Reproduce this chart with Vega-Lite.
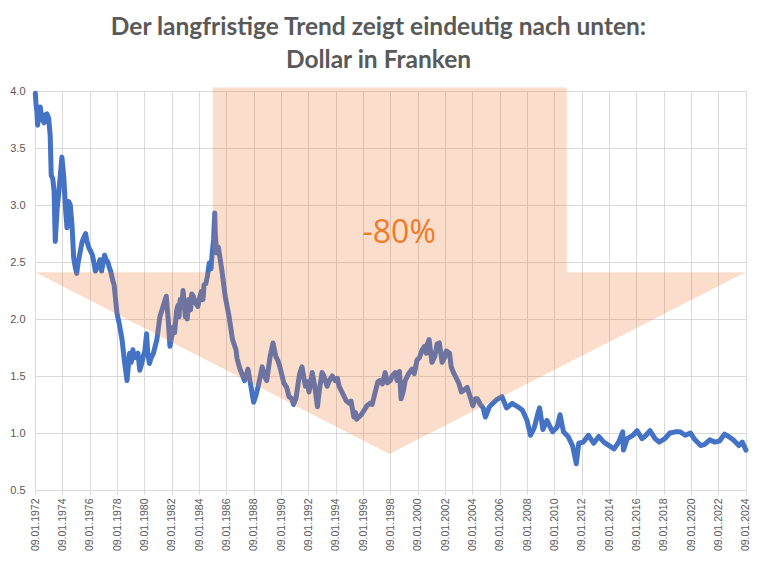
{
  "$schema": "https://vega.github.io/schema/vega-lite/v6.json",
  "width": 711,
  "height": 399,
  "autosize": {"type": "none"},
  "padding": {"left": 35, "top": 91, "right": 15, "bottom": 71},
  "background": "white",
  "title": {
    "text": ["Der langfristige Trend zeigt eindeutig nach unten:", "Dollar in Franken"],
    "font": "Lato",
    "fontSize": 24.5,
    "fontWeight": "bold",
    "color": "#595959",
    "lineHeight": 33,
    "anchor": "middle",
    "dx": -12,
    "offset": 12
  },
  "config": {
    "view": {"stroke": null},
    "axis": {
      "gridColor": "#D9D9D9",
      "gridWidth": 1,
      "domain": false,
      "labelColor": "#595959",
      "labelFont": "Liberation Sans",
      "tickColor": "#D9D9D9",
      "title": null
    }
  },
  "datasets": {
    "fx": [
      {"d": "1972-01-09", "v": 3.98}, {"d": "1972-01-25", "v": 3.90}, {"d": "1972-02-20", "v": 3.82}, {"d": "1972-03-10", "v": 3.70},
      {"d": "1972-04-10", "v": 3.78}, {"d": "1972-05-20", "v": 3.86}, {"d": "1972-06-15", "v": 3.80}, {"d": "1972-07-30", "v": 3.74},
      {"d": "1972-09-01", "v": 3.72}, {"d": "1972-10-01", "v": 3.79}, {"d": "1972-11-15", "v": 3.80},
      {"d": "1973-01-01", "v": 3.76}, {"d": "1973-02-10", "v": 3.61}, {"d": "1973-03-10", "v": 3.26},
      {"d": "1973-04-20", "v": 3.23}, {"d": "1973-05-25", "v": 3.12}, {"d": "1973-06-25", "v": 2.68},
      {"d": "1973-08-15", "v": 2.97}, {"d": "1973-10-01", "v": 3.12}, {"d": "1973-12-20", "v": 3.42},
      {"d": "1974-02-10", "v": 3.24}, {"d": "1974-03-20", "v": 3.00}, {"d": "1974-05-05", "v": 2.80},
      {"d": "1974-06-20", "v": 3.03}, {"d": "1974-08-01", "v": 3.00}, {"d": "1974-09-15", "v": 2.83},
      {"d": "1974-11-01", "v": 2.53}, {"d": "1974-12-15", "v": 2.45}, {"d": "1975-01-20", "v": 2.40}, {"d": "1975-03-01", "v": 2.50},
      {"d": "1975-06-15", "v": 2.68}, {"d": "1975-09-15", "v": 2.75}, {"d": "1975-10-20", "v": 2.68}, {"d": "1975-12-15", "v": 2.62},
      {"d": "1976-01-20", "v": 2.60}, {"d": "1976-03-15", "v": 2.56}, {"d": "1976-04-20", "v": 2.50}, {"d": "1976-06-01", "v": 2.42},
      {"d": "1976-07-15", "v": 2.45}, {"d": "1976-09-01", "v": 2.48}, {"d": "1976-10-01", "v": 2.52},
      {"d": "1976-11-15", "v": 2.42}, {"d": "1977-02-01", "v": 2.56}, {"d": "1977-03-15", "v": 2.52}, {"d": "1977-05-01", "v": 2.50},
      {"d": "1977-06-01", "v": 2.46}, {"d": "1977-07-15", "v": 2.42}, {"d": "1977-09-15", "v": 2.33}, {"d": "1977-10-15", "v": 2.30},
      {"d": "1977-12-31", "v": 2.05}, {"d": "1978-03-01", "v": 1.96}, {"d": "1978-05-15", "v": 1.82},
      {"d": "1978-07-15", "v": 1.64}, {"d": "1978-09-25", "v": 1.46}, {"d": "1978-12-01", "v": 1.70},
      {"d": "1979-01-15", "v": 1.62}, {"d": "1979-03-01", "v": 1.73}, {"d": "1979-04-15", "v": 1.66}, {"d": "1979-06-01", "v": 1.67},
      {"d": "1979-07-15", "v": 1.70}, {"d": "1979-09-01", "v": 1.55}, {"d": "1979-10-15", "v": 1.60},
      {"d": "1979-12-01", "v": 1.67}, {"d": "1980-01-15", "v": 1.72}, {"d": "1980-03-01", "v": 1.87}, {"d": "1980-04-01", "v": 1.70},
      {"d": "1980-05-15", "v": 1.61}, {"d": "1980-07-01", "v": 1.66}, {"d": "1980-09-01", "v": 1.70}, {"d": "1980-10-15", "v": 1.76},
      {"d": "1980-12-01", "v": 1.82}, {"d": "1981-02-20", "v": 2.02},
      {"d": "1981-05-15", "v": 2.11}, {"d": "1981-08-10", "v": 2.20}, {"d": "1981-10-01", "v": 1.99},
      {"d": "1981-11-15", "v": 1.76}, {"d": "1982-02-15", "v": 1.93}, {"d": "1982-03-20", "v": 1.88}, {"d": "1982-05-15", "v": 2.08},
      {"d": "1982-06-20", "v": 2.12}, {"d": "1982-07-15", "v": 2.02}, {"d": "1982-08-15", "v": 2.17}, {"d": "1982-09-20", "v": 2.10},
      {"d": "1982-11-01", "v": 2.25}, {"d": "1982-12-31", "v": 2.02}, {"d": "1983-01-20", "v": 2.10}, {"d": "1983-02-20", "v": 2.00},
      {"d": "1983-04-01", "v": 2.17}, {"d": "1983-05-20", "v": 2.08}, {"d": "1983-06-20", "v": 2.22}, {"d": "1983-08-01", "v": 2.20},
      {"d": "1983-10-01", "v": 2.14}, {"d": "1983-12-01", "v": 2.11}, {"d": "1984-01-15", "v": 2.18},
      {"d": "1984-03-01", "v": 2.24}, {"d": "1984-04-15", "v": 2.17}, {"d": "1984-05-15", "v": 2.30}, {"d": "1984-07-01", "v": 2.31},
      {"d": "1984-08-15", "v": 2.38}, {"d": "1984-10-01", "v": 2.49}, {"d": "1984-11-15", "v": 2.44},
      {"d": "1984-12-20", "v": 2.58}, {"d": "1985-01-25", "v": 2.70}, {"d": "1985-02-25", "v": 2.93}, {"d": "1985-03-10", "v": 2.75},
      {"d": "1985-04-15", "v": 2.58}, {"d": "1985-06-01", "v": 2.63},
      {"d": "1985-09-01", "v": 2.43}, {"d": "1985-12-01", "v": 2.20}, {"d": "1986-03-15", "v": 2.02},
      {"d": "1986-06-15", "v": 1.82}, {"d": "1986-09-15", "v": 1.73}, {"d": "1986-10-15", "v": 1.65},
      {"d": "1987-01-01", "v": 1.56}, {"d": "1987-05-01", "v": 1.46}, {"d": "1987-08-01", "v": 1.56},
      {"d": "1987-12-31", "v": 1.27}, {"d": "1988-03-01", "v": 1.33}, {"d": "1988-05-01", "v": 1.41}, {"d": "1988-08-15", "v": 1.58},
      {"d": "1988-10-15", "v": 1.50}, {"d": "1988-12-15", "v": 1.46}, {"d": "1989-03-15", "v": 1.67}, {"d": "1989-06-01", "v": 1.79},
      {"d": "1989-08-15", "v": 1.67}, {"d": "1989-10-15", "v": 1.63}, {"d": "1989-12-01", "v": 1.58}, {"d": "1990-01-15", "v": 1.52},
      {"d": "1990-03-15", "v": 1.44}, {"d": "1990-06-01", "v": 1.40},
      {"d": "1990-08-01", "v": 1.32}, {"d": "1990-10-15", "v": 1.30}, {"d": "1990-12-01", "v": 1.25}, {"d": "1991-02-01", "v": 1.30},
      {"d": "1991-04-15", "v": 1.46}, {"d": "1991-05-15", "v": 1.52},
      {"d": "1991-07-15", "v": 1.58}, {"d": "1991-10-15", "v": 1.41}, {"d": "1991-12-01", "v": 1.45}, {"d": "1992-01-20", "v": 1.36},
      {"d": "1992-04-15", "v": 1.53}, {"d": "1992-06-15", "v": 1.42},
      {"d": "1992-09-01", "v": 1.23}, {"d": "1992-10-15", "v": 1.36}, {"d": "1992-12-31", "v": 1.53}, {"d": "1993-02-20", "v": 1.50},
      {"d": "1993-05-15", "v": 1.41}, {"d": "1993-07-15", "v": 1.46},
      {"d": "1993-10-01", "v": 1.50}, {"d": "1993-12-15", "v": 1.46}, {"d": "1994-02-15", "v": 1.48}, {"d": "1994-04-01", "v": 1.41},
      {"d": "1994-06-15", "v": 1.36}, {"d": "1994-08-15", "v": 1.32}, {"d": "1994-10-15", "v": 1.28},
      {"d": "1994-12-31", "v": 1.26}, {"d": "1995-02-15", "v": 1.28}, {"d": "1995-05-01", "v": 1.14}, {"d": "1995-06-15", "v": 1.18},
      {"d": "1995-07-15", "v": 1.12}, {"d": "1995-09-15", "v": 1.14}, {"d": "1995-11-15", "v": 1.16},
      {"d": "1996-02-01", "v": 1.20}, {"d": "1996-04-15", "v": 1.24}, {"d": "1996-07-01", "v": 1.26}, {"d": "1996-09-01", "v": 1.25},
      {"d": "1996-11-15", "v": 1.35}, {"d": "1997-02-01", "v": 1.45},
      {"d": "1997-04-01", "v": 1.46}, {"d": "1997-06-01", "v": 1.43}, {"d": "1997-08-15", "v": 1.53}, {"d": "1997-10-15", "v": 1.44},
      {"d": "1997-12-31", "v": 1.46}, {"d": "1998-02-15", "v": 1.50},
      {"d": "1998-05-15", "v": 1.53}, {"d": "1998-07-01", "v": 1.46}, {"d": "1998-09-01", "v": 1.54}, {"d": "1998-10-15", "v": 1.30},
      {"d": "1998-12-15", "v": 1.37},
      {"d": "1999-02-01", "v": 1.46}, {"d": "1999-05-01", "v": 1.52}, {"d": "1999-08-01", "v": 1.56}, {"d": "1999-10-01", "v": 1.52},
      {"d": "1999-12-15", "v": 1.64}, {"d": "2000-02-15", "v": 1.66},
      {"d": "2000-05-01", "v": 1.73}, {"d": "2000-07-01", "v": 1.76}, {"d": "2000-08-15", "v": 1.70}, {"d": "2000-09-15", "v": 1.78},
      {"d": "2000-11-01", "v": 1.82}, {"d": "2001-01-15", "v": 1.62},
      {"d": "2001-04-01", "v": 1.67}, {"d": "2001-06-01", "v": 1.78}, {"d": "2001-08-01", "v": 1.79}, {"d": "2001-10-15", "v": 1.62},
      {"d": "2001-12-31", "v": 1.67}, {"d": "2002-02-01", "v": 1.72},
      {"d": "2002-05-01", "v": 1.70}, {"d": "2002-06-15", "v": 1.58}, {"d": "2002-08-15", "v": 1.53}, {"d": "2002-11-01", "v": 1.48},
      {"d": "2003-01-01", "v": 1.44}, {"d": "2003-03-15", "v": 1.36},
      {"d": "2003-06-01", "v": 1.38}, {"d": "2003-08-15", "v": 1.40}, {"d": "2003-11-01", "v": 1.32}, {"d": "2004-01-15", "v": 1.24},
      {"d": "2004-03-15", "v": 1.30}, {"d": "2004-05-15", "v": 1.30},
      {"d": "2004-08-01", "v": 1.25}, {"d": "2004-10-15", "v": 1.22}, {"d": "2004-12-15", "v": 1.14}, {"d": "2005-04-01", "v": 1.23},
      {"d": "2005-10-01", "v": 1.29}, {"d": "2006-03-01", "v": 1.32}, {"d": "2006-07-01", "v": 1.22},
      {"d": "2006-12-01", "v": 1.26}, {"d": "2007-05-01", "v": 1.23}, {"d": "2007-09-01", "v": 1.20},
      {"d": "2008-01-01", "v": 1.11}, {"d": "2008-04-01", "v": 0.98}, {"d": "2008-07-15", "v": 1.05},
      {"d": "2008-10-15", "v": 1.17}, {"d": "2008-12-01", "v": 1.22}, {"d": "2009-03-01", "v": 1.03},
      {"d": "2009-06-15", "v": 1.11}, {"d": "2009-11-15", "v": 1.01}, {"d": "2010-03-15", "v": 1.05},
      {"d": "2010-06-01", "v": 1.16}, {"d": "2010-09-01", "v": 1.01}, {"d": "2010-12-31", "v": 0.97},
      {"d": "2011-05-01", "v": 0.89}, {"d": "2011-08-10", "v": 0.73}, {"d": "2011-10-15", "v": 0.91},
      {"d": "2012-02-15", "v": 0.92}, {"d": "2012-07-01", "v": 0.98}, {"d": "2012-11-15", "v": 0.91},
      {"d": "2013-04-01", "v": 0.97}, {"d": "2013-08-15", "v": 0.92}, {"d": "2014-01-01", "v": 0.89},
      {"d": "2014-05-15", "v": 0.86}, {"d": "2014-09-15", "v": 0.92}, {"d": "2015-01-01", "v": 1.01},
      {"d": "2015-01-20", "v": 0.85}, {"d": "2015-05-01", "v": 0.95}, {"d": "2015-10-01", "v": 0.98},
      {"d": "2016-01-20", "v": 1.02}, {"d": "2016-06-01", "v": 0.95}, {"d": "2016-09-15", "v": 0.98},
      {"d": "2017-01-01", "v": 1.02}, {"d": "2017-05-15", "v": 0.95}, {"d": "2017-09-01", "v": 0.92},
      {"d": "2018-02-01", "v": 0.95}, {"d": "2018-06-15", "v": 1.00}, {"d": "2018-11-15", "v": 1.01},
      {"d": "2019-03-15", "v": 1.01}, {"d": "2019-08-01", "v": 0.98}, {"d": "2019-12-15", "v": 1.00},
      {"d": "2020-04-15", "v": 0.94}, {"d": "2020-09-15", "v": 0.89}, {"d": "2021-01-01", "v": 0.90},
      {"d": "2021-05-15", "v": 0.94}, {"d": "2021-10-01", "v": 0.92}, {"d": "2022-02-01", "v": 0.93},
      {"d": "2022-06-15", "v": 0.99}, {"d": "2022-10-01", "v": 0.97}, {"d": "2023-02-01", "v": 0.94},
      {"d": "2023-07-01", "v": 0.89}, {"d": "2023-10-01", "v": 0.92}, {"d": "2024-01-09", "v": 0.85}
    ],
    "tri": [
      {"d": "1972-01-09", "lo": 2.41, "hi": 2.41},
      {"d": "1997-12-01", "lo": 0.816, "hi": 2.41},
      {"d": "2024-01-01", "lo": 2.41, "hi": 2.41}
    ],
    "box": [
      {"d1": "1985-01-01", "d2": "2010-12-01", "lo": 2.41, "hi": 4.03}
    ],
    "lbl": [
      {"d": "1998-08-25", "v": 2.755, "t": "-80%"}
    ]
  },
  "layer": [
    {
      "data": {"name": "fx"},
      "mark": {"type": "line", "color": "#4472C4", "strokeWidth": 5, "strokeJoin": "round", "strokeCap": "round"},
      "encoding": {
        "x": {
          "field": "d", "type": "temporal",
          "scale": {"type": "utc", "domain": [{"year": 1972, "month": 1, "date": 1, "utc": true}, {"year": 2024, "month": 1, "date": 9, "utc": true}], "nice": false},
          "axis": {
            "tickCount": {"interval": "year", "step": 2},
            "labelExpr": "'09.01.' + utcFormat(datum.value, '%Y')",
            "labelAngle": -90,
            "labelAlign": "right",
            "labelBaseline": "middle",
            "labelFontSize": 10.5,
            "labelPadding": 4,
            "tickSize": 4,
            "labelOverlap": false,
            "labelFlush": false
          }
        },
        "y": {
          "field": "v", "type": "quantitative",
          "scale": {"domain": [0.5, 4.0], "nice": false, "zero": false},
          "axis": {"values": [0.5, 1.0, 1.5, 2.0, 2.5, 3.0, 3.5, 4.0], "format": ".1f", "ticks": false, "labelPadding": 10, "labelFontSize": 11}
        }
      }
    },
    {
      "data": {"name": "tri"},
      "mark": {"type": "area", "color": "#ED7D31", "opacity": 0.25},
      "encoding": {
        "x": {"field": "d", "type": "temporal"},
        "y": {"field": "lo", "type": "quantitative"},
        "y2": {"field": "hi"}
      }
    },
    {
      "data": {"name": "box"},
      "mark": {"type": "rect", "color": "#ED7D31", "opacity": 0.25},
      "encoding": {
        "x": {"field": "d1", "type": "temporal"},
        "x2": {"field": "d2"},
        "y": {"field": "lo", "type": "quantitative"},
        "y2": {"field": "hi"}
      }
    },
    {
      "data": {"name": "lbl"},
      "mark": {"type": "text", "color": "#F07A2A", "font": "Open Sans", "fontSize": 32, "align": "center", "baseline": "middle"},
      "encoding": {
        "x": {"field": "d", "type": "temporal"},
        "y": {"field": "v", "type": "quantitative"},
        "text": {"field": "t"}
      }
    }
  ]
}
